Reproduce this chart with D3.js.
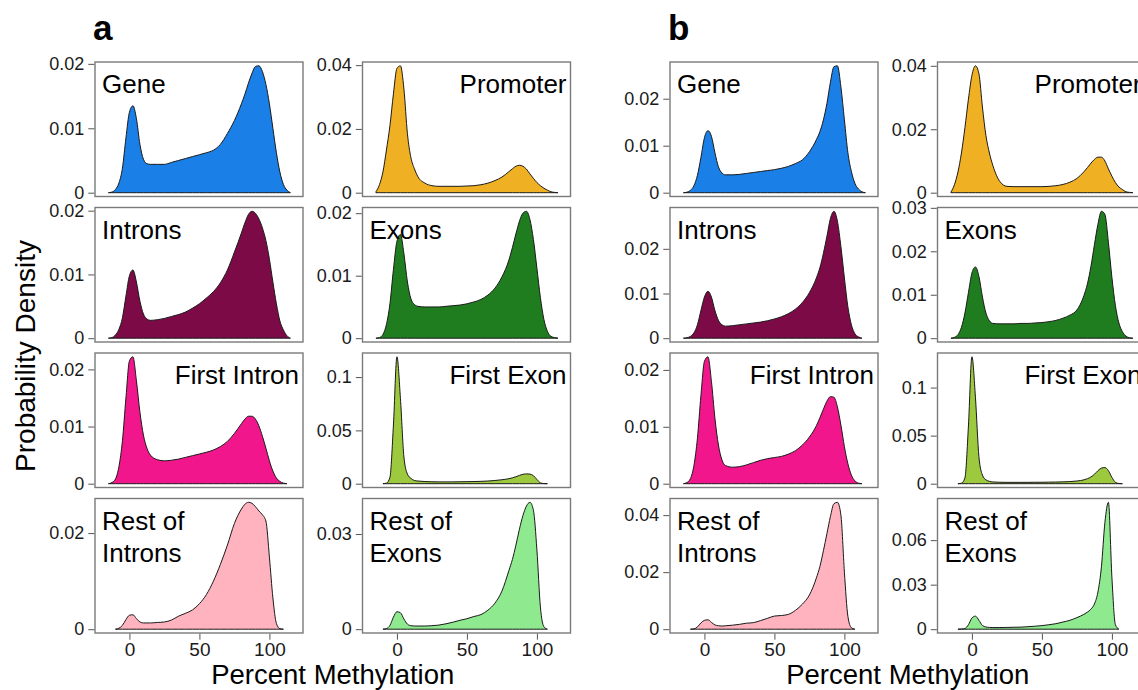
<!DOCTYPE html>
<html>
<head>
<meta charset="utf-8">
<script src="https://cdn.jsdelivr.net/npm/d3@7"></script>
<style>
    body { margin: 0; background: #fff; }
    svg { display: block; font-family: "Liberation Sans", Arial, Helvetica, sans-serif; }
</style>
</head>
<body>
<div id="chart"></div>
<script>
// x grid (percent methylation) the densities were read on
const methylation = [-15, -12.5, -10, -7.5, -5, -2.5, 0, 2.5, 5, 7.5, 10, 12.5, 15,
    20, 25, 30, 35, 40, 45, 50, 55, 60, 65, 70, 75, 80,
    82.5, 85, 87.5, 90, 92.5, 95, 97.5, 100, 102.5, 105, 107.5, 110, 112.5, 115];

const regions = ["Gene", "Promoter", "Introns", "Exons", "First Intron", "First Exon", "Rest of|Introns", "Rest of|Exons"];
const regionColors = ["#1a7fe6", "#f0b024", "#7c0a46", "#1f7d1f", "#f2168c", "#9cc93e", "#ffb3bf", "#8fe98f"];
const labelSide = ["start", "end", "start", "start", "end", "end", "start", "start"];
const xTicks = [0, 50, 100];

// ---- panel a densities
const aGene = [0, 0.0001, 0.0005, 0.0015, 0.0038, 0.0085, 0.0125, 0.0135, 0.0115, 0.0075, 0.0052, 0.0045, 0.0044,
    0.0044, 0.0044, 0.0047, 0.0050, 0.0053, 0.0056, 0.0059, 0.0062, 0.0066, 0.0075, 0.0092, 0.0112, 0.0138,
    0.0153, 0.0170, 0.0185, 0.0196, 0.0197, 0.0188, 0.0168, 0.0138, 0.0100, 0.0062, 0.0032, 0.0013, 0.0004, 0];
const aPromoter = [0.0003, 0.0025, 0.0065, 0.0134, 0.0210, 0.0310, 0.0390, 0.0398, 0.0325, 0.0185, 0.0110, 0.0075, 0.0050,
    0.0030, 0.0022, 0.0020, 0.0020, 0.0020, 0.0020, 0.0021, 0.0022, 0.0025, 0.0030, 0.0038, 0.0049, 0.0066,
    0.0075, 0.0083, 0.0086, 0.0083, 0.0074, 0.0059, 0.0045, 0.0032, 0.0022, 0.0014, 0.0008, 0.0003, 0.0001, 0];
const aIntrons = [0, 0.0001, 0.0005, 0.0014, 0.0032, 0.0066, 0.0098, 0.0107, 0.0088, 0.0058, 0.0038, 0.0030, 0.0028,
    0.0029, 0.0031, 0.0034, 0.0037, 0.0041, 0.0047, 0.0054, 0.0063, 0.0073, 0.0087, 0.0107, 0.0135, 0.0165,
    0.0181, 0.0194, 0.0199, 0.0196, 0.0187, 0.0173, 0.0153, 0.0124, 0.0088, 0.0054, 0.0027, 0.0013, 0.0004, 0];
const aExons = [0, 0.0001, 0.0006, 0.0022, 0.0055, 0.0110, 0.0155, 0.0166, 0.0135, 0.0090, 0.0063, 0.0054, 0.0051,
    0.0050, 0.0050, 0.0050, 0.0051, 0.0052, 0.0053, 0.0055, 0.0058, 0.0062, 0.0069, 0.0080, 0.0098, 0.0125,
    0.0145, 0.0167, 0.0187, 0.0200, 0.0203, 0.0190, 0.0158, 0.0112, 0.0065, 0.0030, 0.0011, 0.0003, 0.0001, 0];
const aFirstIntron = [0, 0.0002, 0.0008, 0.0030, 0.0075, 0.0150, 0.0215, 0.0222, 0.0180, 0.0125, 0.0085, 0.0062, 0.0050,
    0.0042, 0.0040, 0.0041, 0.0043, 0.0046, 0.0049, 0.0052, 0.0055, 0.0059, 0.0065, 0.0074, 0.0088, 0.0105,
    0.0113, 0.0118, 0.0118, 0.0113, 0.0101, 0.0083, 0.0062, 0.0040, 0.0022, 0.0010, 0.0004, 0.0001, 0, 0];
const aFirstExon = [0, 0, 0, 0.0005, 0.0060, 0.0550, 0.1190, 0.0800, 0.0250, 0.0090, 0.0050, 0.0030, 0.0025,
    0.0020, 0.0018, 0.0017, 0.0017, 0.0017, 0.0018, 0.0019, 0.0020, 0.0022, 0.0025, 0.0030, 0.0037, 0.0047,
    0.0055, 0.0065, 0.0078, 0.0088, 0.0092, 0.0090, 0.0075, 0.0040, 0.0008, 0.0001, 0, 0, 0, 0];
const aRestIntrons = [0, 0, 0, 0.0002, 0.0008, 0.0020, 0.0029, 0.0030, 0.0022, 0.0015, 0.0013, 0.0013, 0.0013,
    0.0014, 0.0015, 0.0019, 0.0027, 0.0033, 0.0040, 0.0053, 0.0072, 0.0100, 0.0135, 0.0175, 0.0220, 0.0250,
    0.0260, 0.0264, 0.0262, 0.0255, 0.0246, 0.0238, 0.0225, 0.0150, 0.0065, 0.0012, 0.0001, 0, 0, 0];
const aRestExons = [0, 0, 0, 0.0002, 0.0012, 0.0038, 0.0055, 0.0052, 0.0032, 0.0016, 0.0011, 0.0010, 0.0010,
    0.0010, 0.0011, 0.0013, 0.0017, 0.0022, 0.0028, 0.0033, 0.0040, 0.0046, 0.0060, 0.0082, 0.0120, 0.0185,
    0.0220, 0.0265, 0.0315, 0.0358, 0.0388, 0.0400, 0.0375, 0.0250, 0.0070, 0.0008, 0, 0, 0, 0];

// ---- panel b densities
const bGene = [0, 0.0001, 0.0005, 0.0015, 0.0037, 0.0075, 0.0117, 0.0132, 0.0120, 0.0085, 0.0055, 0.0042, 0.0038,
    0.0038, 0.0039, 0.0041, 0.0043, 0.0045, 0.0047, 0.0049, 0.0052, 0.0056, 0.0062, 0.0070, 0.0087, 0.0113,
    0.0130, 0.0155, 0.0190, 0.0235, 0.0268, 0.0270, 0.0225, 0.0155, 0.0085, 0.0045, 0.0020, 0.0008, 0.0002, 0];
const bPromoter = [0.0002, 0.0025, 0.0065, 0.0125, 0.0205, 0.0295, 0.0370, 0.0400, 0.0375, 0.0270, 0.0180, 0.0125, 0.0085,
    0.0035, 0.0020, 0.0019, 0.0019, 0.0019, 0.0019, 0.0019, 0.0020, 0.0022, 0.0026, 0.0033, 0.0045, 0.0066,
    0.0079, 0.0093, 0.0105, 0.0112, 0.0112, 0.0100, 0.0075, 0.0052, 0.0032, 0.0018, 0.0010, 0.0003, 0.0001, 0];
const bIntrons = [0, 0.0001, 0.0004, 0.0012, 0.0030, 0.0062, 0.0092, 0.0105, 0.0092, 0.0062, 0.0040, 0.0030, 0.0027,
    0.0028, 0.0030, 0.0032, 0.0034, 0.0036, 0.0039, 0.0043, 0.0048, 0.0055, 0.0065, 0.0080, 0.0102, 0.0135,
    0.0158, 0.0190, 0.0228, 0.0268, 0.0284, 0.0262, 0.0205, 0.0135, 0.0070, 0.0030, 0.0010, 0.0003, 0, 0];
const bExons = [0, 0.0002, 0.0008, 0.0025, 0.0058, 0.0105, 0.0150, 0.0164, 0.0142, 0.0095, 0.0058, 0.0040, 0.0034,
    0.0033, 0.0033, 0.0033, 0.0034, 0.0034, 0.0035, 0.0036, 0.0038, 0.0041, 0.0046, 0.0053, 0.0065, 0.0098,
    0.0125, 0.0165, 0.0215, 0.0262, 0.0292, 0.0285, 0.0220, 0.0140, 0.0075, 0.0035, 0.0015, 0.0005, 0.0001, 0];
const bFirstIntron = [0, 0.0002, 0.0009, 0.0032, 0.0080, 0.0155, 0.0215, 0.0223, 0.0180, 0.0115, 0.0068, 0.0042, 0.0032,
    0.0029, 0.0030, 0.0033, 0.0037, 0.0041, 0.0044, 0.0046, 0.0048, 0.0052, 0.0058, 0.0068, 0.0082, 0.0102,
    0.0116, 0.0131, 0.0145, 0.0153, 0.0152, 0.0135, 0.0103, 0.0065, 0.0035, 0.0015, 0.0005, 0.0001, 0, 0];
const bFirstExon = [0, 0, 0, 0.0005, 0.0060, 0.0600, 0.1320, 0.0900, 0.0280, 0.0090, 0.0040, 0.0025, 0.0018,
    0.0015, 0.0014, 0.0014, 0.0014, 0.0014, 0.0015, 0.0015, 0.0016, 0.0017, 0.0019, 0.0022, 0.0028, 0.0040,
    0.0052, 0.0070, 0.0098, 0.0135, 0.0162, 0.0168, 0.0135, 0.0065, 0.0015, 0.0002, 0, 0, 0, 0];
const bRestIntrons = [0, 0, 0, 0.0001, 0.0008, 0.0022, 0.0031, 0.0033, 0.0024, 0.0015, 0.0012, 0.0011, 0.0012,
    0.0014, 0.0017, 0.0021, 0.0023, 0.0030, 0.0038, 0.0046, 0.0048, 0.0052, 0.0066, 0.0088, 0.0120, 0.0180,
    0.0220, 0.0275, 0.0335, 0.0395, 0.0440, 0.0445, 0.0400, 0.0200, 0.0045, 0.0005, 0, 0, 0, 0];
const bRestExons = [0, 0, 0, 0.0001, 0.0005, 0.0030, 0.0075, 0.0088, 0.0060, 0.0025, 0.0015, 0.0012, 0.0011,
    0.0011, 0.0012, 0.0013, 0.0014, 0.0017, 0.0020, 0.0024, 0.0030, 0.0037, 0.0048, 0.0060, 0.0078, 0.0100,
    0.0115, 0.0135, 0.0170, 0.0250, 0.0420, 0.0720, 0.0855, 0.0350, 0.0030, 0, 0, 0, 0, 0];

// y tick values per facet
const aTicks = [[0, 0.01, 0.02], [0, 0.02, 0.04], [0, 0.01, 0.02], [0, 0.01, 0.02],
    [0, 0.01, 0.02], [0, 0.05, 0.1], [0, 0.02], [0, 0.03]];
const bTicks = [[0, 0.01, 0.02], [0, 0.02, 0.04], [0, 0.01, 0.02], [0, 0.01, 0.02, 0.03],
    [0, 0.01, 0.02], [0, 0.05, 0.1], [0, 0.02, 0.04], [0, 0.03, 0.06]];

const panelA = [aGene, aPromoter, aIntrons, aExons, aFirstIntron, aFirstExon, aRestIntrons, aRestExons];
const panelB = [bGene, bPromoter, bIntrons, bExons, bFirstIntron, bFirstExon, bRestIntrons, bRestExons];

// layout
const W = 1138, H = 690;
const boxW = 208, boxH = 134.5;
const colStep = 267.5;
const rowTop = [62, 207.5, 353, 498.5];

const svg = d3.select("#chart").append("svg")
    .attr("width", W)
    .attr("height", H);

const fmt = d => d === 0 ? "0" : String(d);

// drop the flat zero tails so the outline only spans where there is density
function trimZeros(pts) {
    let s = 0, e = pts.length - 1;
    while (s < e && pts[s + 1].d === 0) s++;
    while (e > s && pts[e - 1].d === 0) e--;
    return pts.slice(s, e + 1);
}

function drawFigure(left, series, ticks, letter, yTitle) {

    svg.append("text")
        .attr("x", left - 2)
        .attr("y", 40)
        .attr("font-size", 35)
        .attr("font-weight", "bold")
        .attr("fill", "#000")
        .text(letter);

    series.forEach(function (vals, i) {
        let row = Math.floor(i / 2), col = i % 2;
        let x0 = left + col * colStep, y0 = rowTop[row];

        let pts = trimZeros(methylation.map((m, k) => ({m: m, d: vals[k]})));
        let maxD = d3.max(vals);

        let x = d3.scaleLinear().domain([-24.6, 124]).range([x0, x0 + boxW]);
        let y = d3.scaleLinear().domain([-0.03 * maxD, 1.03 * maxD]).range([y0 + boxH, y0]);

        let g = svg.append("g");

        g.append("path")
            .datum(pts)
            .attr("fill", regionColors[i])
            .attr("stroke", "#1a1a1a")
            .attr("stroke-width", 1)
            .attr("stroke-linejoin", "round")
            .attr("d", d3.area()
                .curve(d3.curveMonotoneX)
                .x(d => x(d.m))
                .y0(y(0))
                .y1(d => y(d.d)));

        g.append("rect")
            .attr("x", x0)
            .attr("y", y0)
            .attr("width", boxW)
            .attr("height", boxH)
            .attr("fill", "none")
            .attr("stroke", "#7a7a7a")
            .attr("stroke-width", 1.4);

        let ya = g.append("g")
            .attr("transform", "translate(" + (x0 - 0.7) + ",0)")
            .call(d3.axisLeft(y).tickValues(ticks[i]).tickFormat(fmt).tickSize(6).tickPadding(4));
        ya.select(".domain").remove();
        ya.selectAll("line").attr("stroke", "#555");
        ya.selectAll("text").attr("font-size", 18).attr("fill", "#1a1a1a")
            .attr("font-family", "'Liberation Sans', Arial, sans-serif");

        if (row === 3) {
            let xa = g.append("g")
                .attr("transform", "translate(0," + (y0 + boxH + 0.7) + ")")
                .call(d3.axisBottom(x).tickValues(xTicks).tickSize(6).tickPadding(3));
            xa.select(".domain").remove();
            xa.selectAll("line").attr("stroke", "#555");
            xa.selectAll("text").attr("font-size", 19).attr("fill", "#1a1a1a")
                .attr("font-family", "'Liberation Sans', Arial, sans-serif");
        }

        // facet label, some on two lines
        let lines = regions[i].split("|");
        let lx = labelSide[i] === "start" ? x0 + 7 : x0 + boxW - 4;
        let lbl = g.append("text")
            .attr("x", lx)
            .attr("y", y0 + 30)
            .attr("font-size", 26)
            .attr("fill", "#000")
            .attr("text-anchor", labelSide[i]);
        lines.forEach(function (t, k) {
            lbl.append("tspan")
                .attr("x", lx)
                .attr("y", y0 + 31 + k * 32)
                .text(t);
        });
    });

    svg.append("text")
        .attr("x", left + (boxW + colStep) / 2)
        .attr("y", 684)
        .attr("text-anchor", "middle")
        .attr("font-size", 27.5)
        .attr("fill", "#000")
        .text("Percent Methylation");

    if (yTitle) {
        svg.append("text")
            .attr("transform", "translate(35,356) rotate(-90)")
            .attr("text-anchor", "middle")
            .attr("font-size", 28)
            .attr("fill", "#000")
            .text("Probability Density");
    }
}

drawFigure(95, panelA, aTicks, "a", true);
drawFigure(670, panelB, bTicks, "b", false);
</script>
</body>
</html>
